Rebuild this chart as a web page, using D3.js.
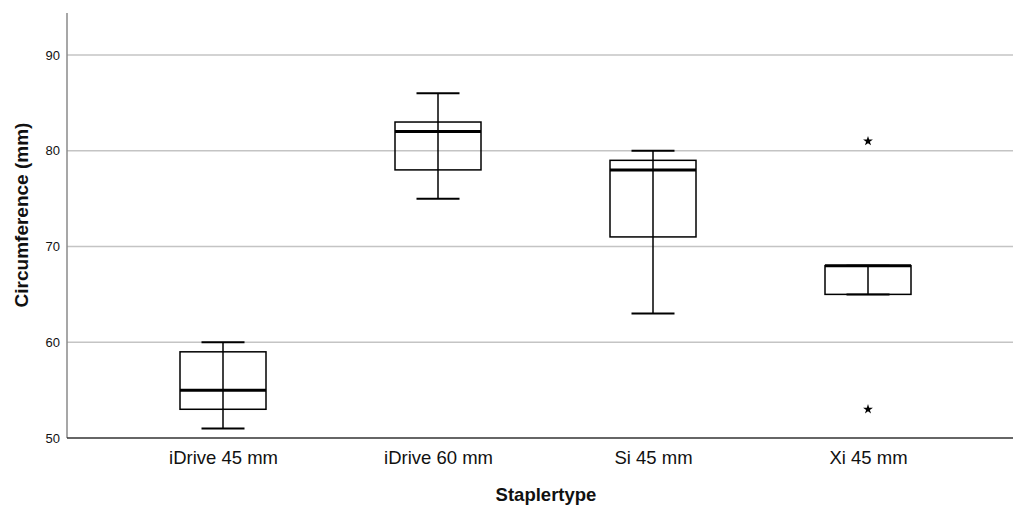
<!DOCTYPE html>
<html>
<head>
<meta charset="utf-8">
<script src="https://cdn.jsdelivr.net/npm/d3@7"></script>
<style>
  body { margin: 0; background: #fff; }
  svg { display: block; }
  text { font-family: "Liberation Sans", Arial, sans-serif; fill: #111; }
</style>
</head>
<body>
<svg id="chart" width="1013" height="507"></svg>
<script>
// box summaries
const categories = ["iDrive 45 mm", "iDrive 60 mm", "Si 45 mm", "Xi 45 mm"];
const mins    = [51, 75, 63, 65];
const q1s     = [53, 78, 71, 65];
const medians = [55, 82, 78, 68];
const q3s     = [59, 83, 79, 68];
const maxs    = [60, 86, 80, 68];
const outliers = [[], [], [], [81, 53]];
const yTicks = [50, 60, 70, 80, 90];

const plotLeft = 67, plotRight = 1013, plotTop = 13, plotBottom = 438;

const svg = d3.select("#chart");

const y = d3.scaleLinear().domain([50, 90]).range([plotBottom, 55]);
const x = d3.scalePoint().domain(categories).range([115.5, 975.5]).padding(0.5);

const boxW = 86, capW = 43;

// gridlines
svg.append("g")
  .selectAll("line")
  .data(yTicks.filter(d => d > 50))
  .join("line")
  .attr("x1", plotLeft).attr("x2", plotRight)
  .attr("y1", d => y(d)).attr("y2", d => y(d))
  .attr("stroke", "#c4c4c4")
  .attr("stroke-width", 1.5);

// y axis
const yAxis = svg.append("g")
  .attr("transform", `translate(${plotLeft},0)`)
  .call(d3.axisLeft(y).tickValues(yTicks).tickSize(0).tickPadding(7));
yAxis.select(".domain").remove();
yAxis.selectAll("text").style("font-size", "13px").attr("fill", "#111");

svg.append("line")
  .attr("x1", plotLeft).attr("x2", plotLeft)
  .attr("y1", plotTop).attr("y2", plotBottom)
  .attr("stroke", "#8a8a8a").attr("stroke-width", 1.5);

// x axis
const xAxis = svg.append("g")
  .attr("transform", `translate(0,${plotBottom})`)
  .call(d3.axisBottom(x).tickSize(0).tickPadding(13));
xAxis.select(".domain").remove();
xAxis.selectAll("text").style("font-size", "18.5px").attr("fill", "#111");

svg.append("line")
  .attr("x1", plotLeft).attr("x2", plotRight)
  .attr("y1", plotBottom).attr("y2", plotBottom)
  .attr("stroke", "#333").attr("stroke-width", 1.6);

// boxes
const data = categories.map((c, i) => ({
  c, min: mins[i], q1: q1s[i], med: medians[i], q3: q3s[i], max: maxs[i], out: outliers[i]
}));

const g = svg.append("g")
  .selectAll("g")
  .data(data)
  .join("g")
  .attr("transform", d => `translate(${x(d.c)},0)`);

g.append("line")
  .attr("y1", d => y(d.min)).attr("y2", d => y(d.max))
  .attr("stroke", "#000").attr("stroke-width", 1.5);

g.append("rect")
  .attr("x", -boxW / 2).attr("width", boxW)
  .attr("y", d => y(d.q3)).attr("height", d => y(d.q1) - y(d.q3))
  .attr("fill", "none").attr("stroke", "#000").attr("stroke-width", 1.5);

g.selectAll(".cap")
  .data(d => [d.min, d.max])
  .join("line")
  .attr("class", "cap")
  .attr("x1", -capW / 2).attr("x2", capW / 2)
  .attr("y1", v => y(v)).attr("y2", v => y(v))
  .attr("stroke", "#000").attr("stroke-width", 2);

g.append("line")
  .attr("x1", -boxW / 2).attr("x2", boxW / 2)
  .attr("y1", d => y(d.med)).attr("y2", d => y(d.med))
  .attr("stroke", "#000").attr("stroke-width", 3);

g.selectAll(".out")
  .data(d => d.out)
  .join("path")
  .attr("class", "out")
  .attr("transform", v => `translate(0,${y(v)})`)
  .attr("d", d3.symbol(d3.symbolStar, 30))
  .attr("fill", "#000");

// axis titles
svg.append("text")
  .attr("transform", "translate(28,215) rotate(-90)")
  .attr("text-anchor", "middle")
  .style("font-size", "19px")
  .style("font-weight", "bold")
  .text("Circumference (mm)");

svg.append("text")
  .attr("x", 546).attr("y", 501)
  .attr("text-anchor", "middle")
  .style("font-size", "18.5px")
  .style("font-weight", "bold")
  .text("Staplertype");
</script>
</body>
</html>
